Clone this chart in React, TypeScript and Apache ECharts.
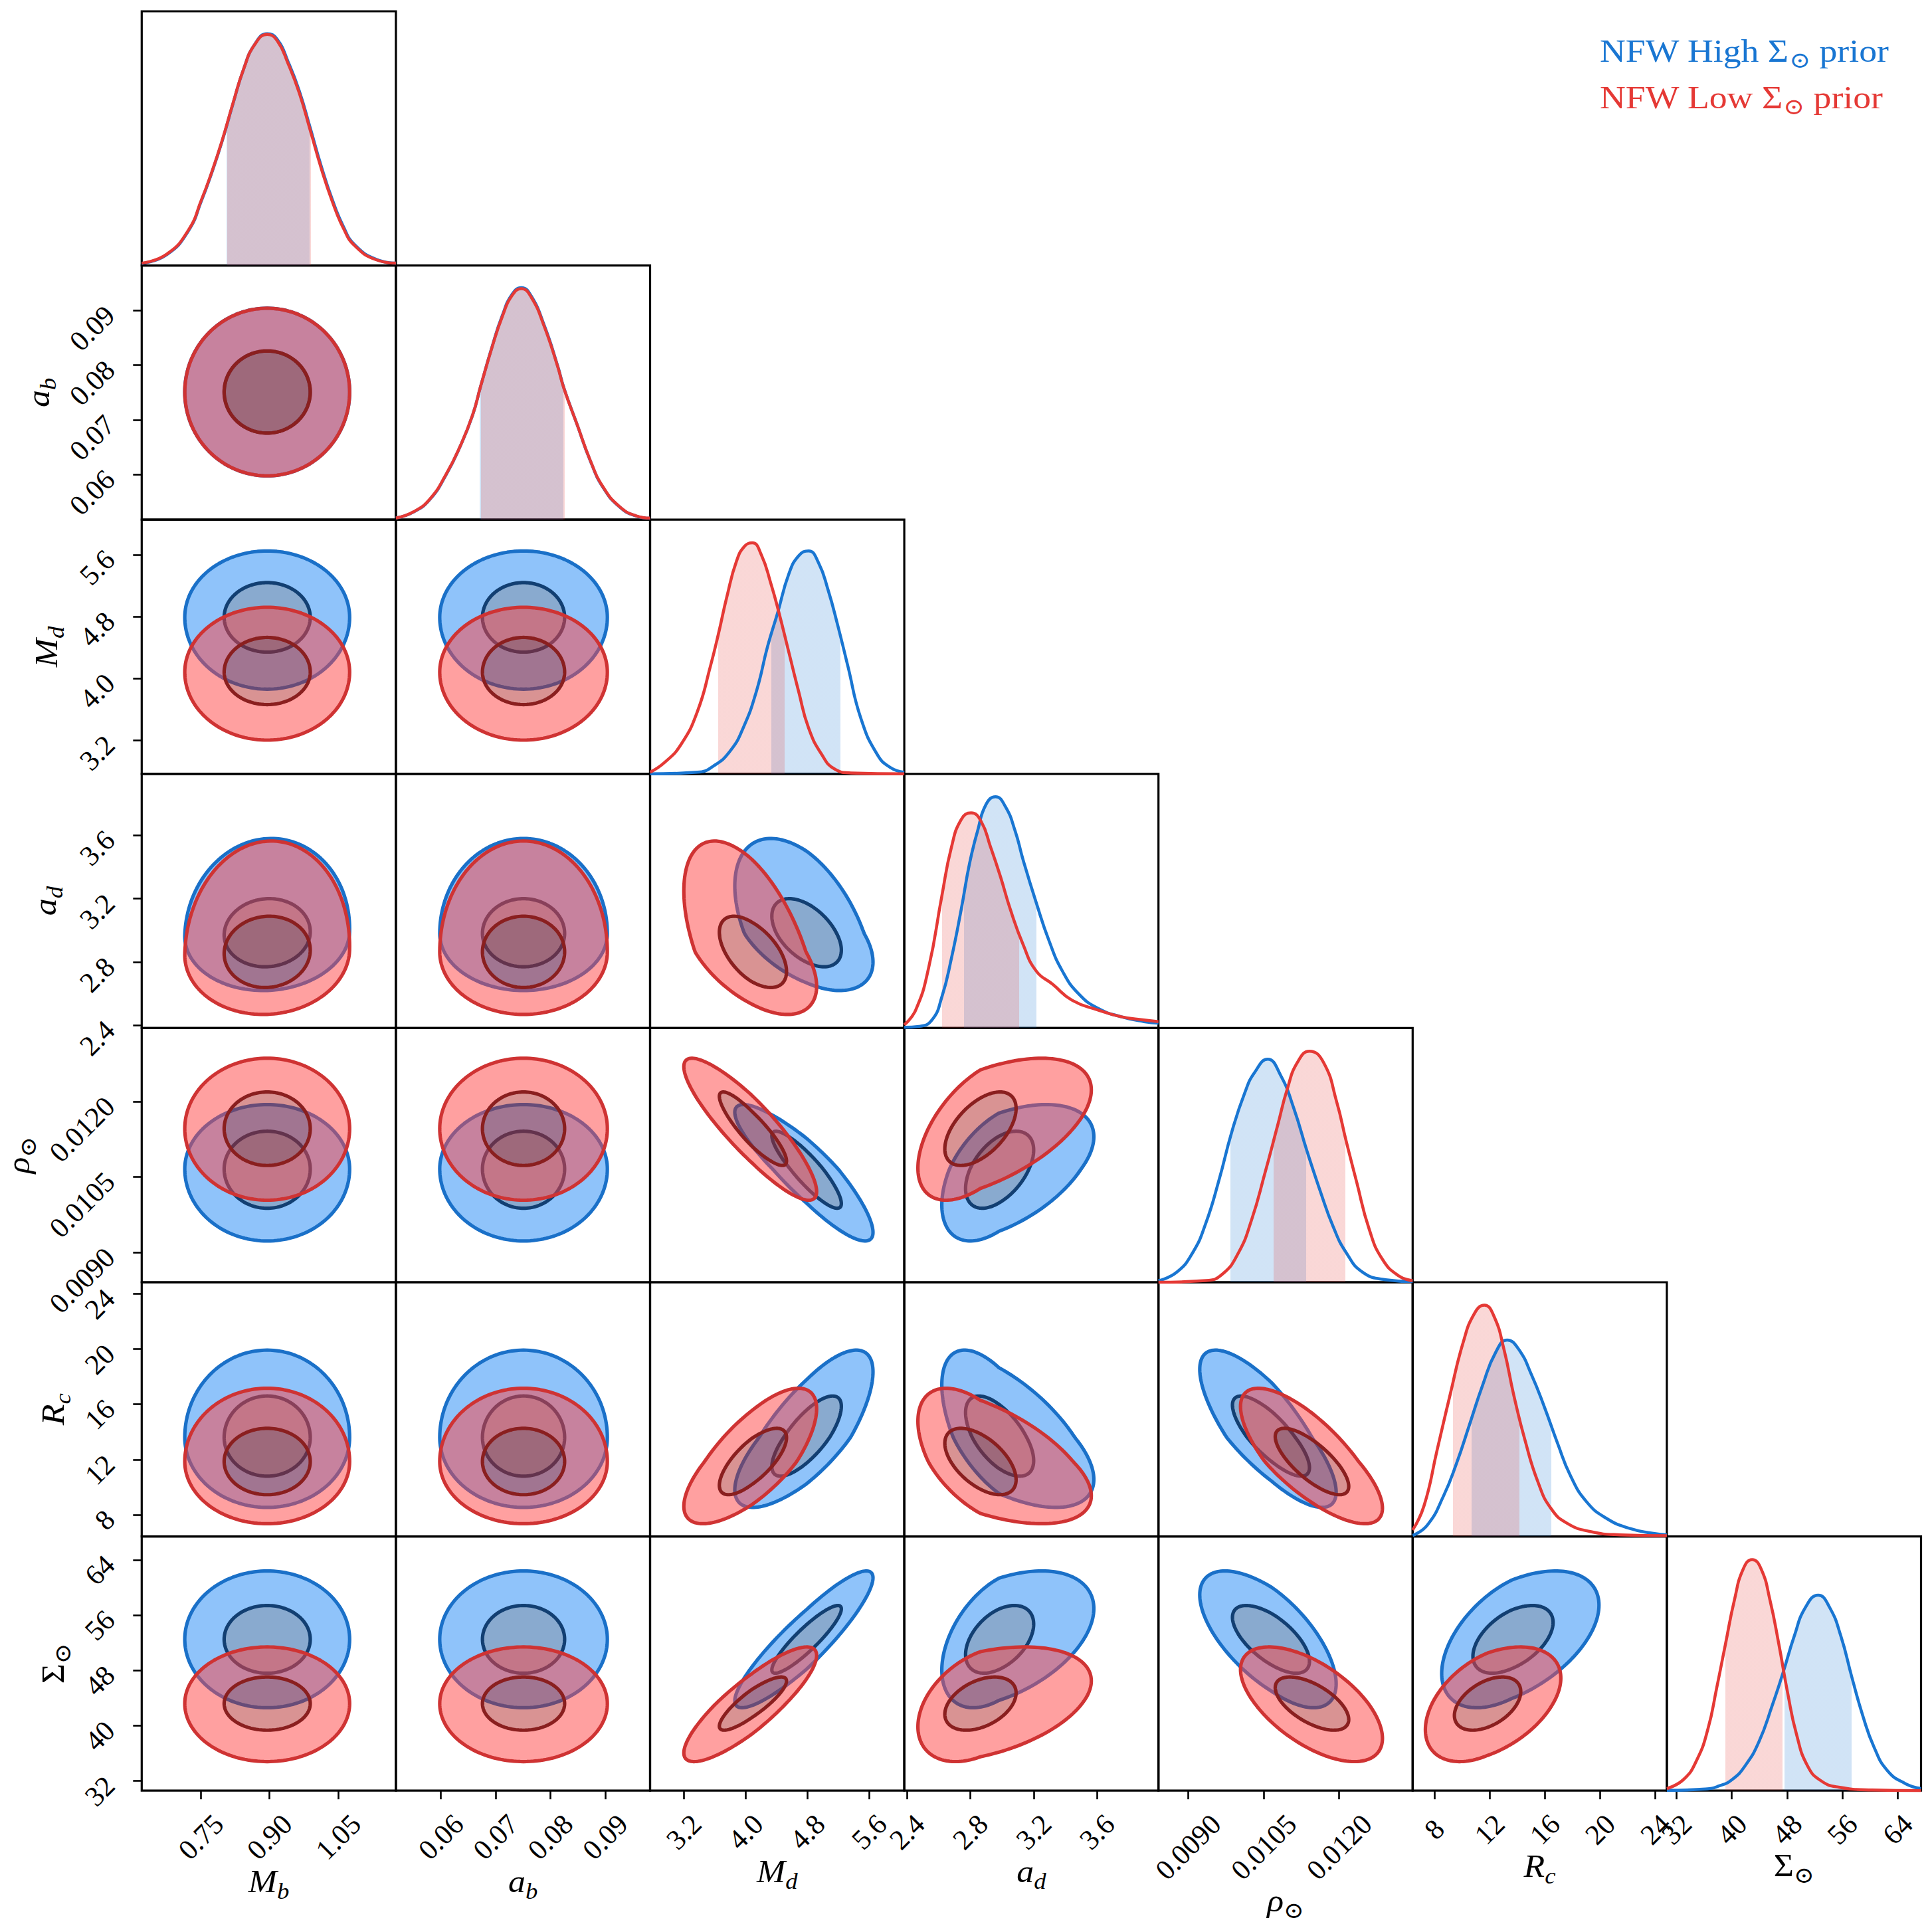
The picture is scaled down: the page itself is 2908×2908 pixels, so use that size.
import React, { useEffect, useRef } from 'react';
import * as echarts from 'echarts';

// ---------- parameters / axes ----------
const paramKeys = ['M_b', 'a_b', 'M_d', 'a_d', 'rho', 'R_c', 'Sigma'];
const axisMin = [0.621, 0.0518, 2.763, 2.383, 0.00841, 6.44, 30.6];
const axisMax = [1.176, 0.0982, 6.055, 3.988, 0.01346, 24.83, 67.4];
const tickValues = [
  [0.75, 0.9, 1.05],
  [0.06, 0.07, 0.08, 0.09],
  [3.2, 4.0, 4.8, 5.6],
  [2.4, 2.8, 3.2, 3.6],
  [0.009, 0.0105, 0.012],
  [8, 12, 16, 20, 24],
  [32, 40, 48, 56, 64],
];
const tickDecimals = [2, 2, 1, 1, 4, 0, 0];

// ---------- 1D marginals (x, relative density) ----------
const mbHigh = [[0.621, 0.009], [0.675, 0.046], [0.723, 0.15], [0.752, 0.283], [0.772, 0.39], [0.796, 0.534], [0.82, 0.698], [0.844, 0.853], [0.868, 0.958], [0.895, 1.003], [0.917, 0.978], [0.941, 0.88], [0.965, 0.756], [0.989, 0.595], [1.013, 0.43], [1.037, 0.286], [1.061, 0.17], [1.086, 0.09], [1.134, 0.026], [1.176, 0.01]];
const mbLow = [[0.621, 0.01], [0.675, 0.048], [0.723, 0.153], [0.752, 0.287], [0.772, 0.393], [0.796, 0.537], [0.82, 0.7], [0.844, 0.853], [0.868, 0.957], [0.895, 1.0], [0.917, 0.972], [0.941, 0.872], [0.965, 0.747], [0.989, 0.585], [1.013, 0.42], [1.037, 0.278], [1.061, 0.163], [1.086, 0.086], [1.134, 0.024], [1.176, 0.01]];
const abHigh = [[0.0518, 0.007], [0.0551, 0.034], [0.0581, 0.09], [0.061, 0.196], [0.0634, 0.31], [0.0658, 0.452], [0.0673, 0.58], [0.0694, 0.752], [0.0712, 0.882], [0.073, 0.975], [0.0747, 1.004], [0.0765, 0.968], [0.0789, 0.84], [0.0813, 0.668], [0.0825, 0.568], [0.0849, 0.41], [0.0873, 0.254], [0.0896, 0.14], [0.0926, 0.056], [0.0956, 0.016], [0.0982, 0.006]];
const abLow = [[0.0518, 0.007], [0.0551, 0.035], [0.0581, 0.092], [0.061, 0.198], [0.0634, 0.311], [0.0658, 0.453], [0.0673, 0.58], [0.0694, 0.75], [0.0712, 0.878], [0.073, 0.97], [0.0747, 1.0], [0.0765, 0.963], [0.0789, 0.835], [0.0813, 0.665], [0.0825, 0.566], [0.0849, 0.41], [0.0873, 0.255], [0.0896, 0.142], [0.0926, 0.057], [0.0956, 0.017], [0.0982, 0.007]];
const mdHigh = [[2.763, 0], [3.376, 0.007], [3.588, 0.035], [3.8, 0.099], [3.969, 0.199], [4.138, 0.355], [4.286, 0.553], [4.413, 0.695], [4.561, 0.866], [4.688, 0.944], [4.815, 0.965], [4.942, 0.915], [5.069, 0.795], [5.196, 0.639], [5.323, 0.468], [5.492, 0.241], [5.703, 0.085], [5.873, 0.028], [6.055, 0.007]];
const mdLow = [[2.763, 0.007], [2.953, 0.05], [3.165, 0.128], [3.376, 0.27], [3.546, 0.468], [3.651, 0.61], [3.757, 0.766], [3.884, 0.922], [3.99, 0.986], [4.087, 1.0], [4.201, 0.95], [4.328, 0.823], [4.434, 0.695], [4.561, 0.525], [4.688, 0.355], [4.815, 0.199], [4.984, 0.085], [5.153, 0.021], [5.365, 0.004], [6.055, 0]];
const adHigh = [[2.383, 0.003], [2.476, 0.007], [2.558, 0.035], [2.62, 0.134], [2.681, 0.303], [2.743, 0.515], [2.795, 0.712], [2.846, 0.853], [2.898, 0.966], [2.959, 1.001], [3.021, 0.959], [3.083, 0.853], [3.134, 0.726], [3.216, 0.543], [3.299, 0.374], [3.381, 0.247], [3.484, 0.148], [3.607, 0.085], [3.752, 0.049], [3.896, 0.028], [3.988, 0.021]];
const adLow = [[2.383, 0.014], [2.455, 0.078], [2.537, 0.261], [2.62, 0.571], [2.681, 0.783], [2.743, 0.903], [2.805, 0.931], [2.867, 0.896], [2.928, 0.783], [2.99, 0.656], [3.052, 0.515], [3.134, 0.36], [3.216, 0.247], [3.319, 0.19], [3.443, 0.12], [3.607, 0.078], [3.752, 0.049], [3.896, 0.035], [3.988, 0.028]];
const rhoHigh = [[0.00841, 0.007], [0.00877, 0.043], [0.00909, 0.128], [0.00935, 0.255], [0.00961, 0.44], [0.00987, 0.653], [0.01013, 0.823], [0.01032, 0.908], [0.01058, 0.965], [0.01084, 0.894], [0.0111, 0.752], [0.01136, 0.568], [0.01162, 0.397], [0.01188, 0.241], [0.01214, 0.128], [0.01247, 0.043], [0.01292, 0.011], [0.01346, 0.003]];
const rhoLow = [[0.00841, 0], [0.00935, 0.007], [0.00968, 0.035], [0.01, 0.128], [0.01026, 0.27], [0.01052, 0.468], [0.01078, 0.681], [0.01097, 0.837], [0.01117, 0.951], [0.01141, 1.0], [0.01169, 0.951], [0.01195, 0.781], [0.01214, 0.61], [0.01234, 0.44], [0.0126, 0.227], [0.01286, 0.099], [0.01318, 0.028], [0.01346, 0.007]];
const rcHigh = [[6.44, 0.004], [7.5, 0.049], [8.68, 0.176], [9.62, 0.317], [10.57, 0.487], [11.51, 0.656], [12.45, 0.797], [13.28, 0.85], [14.1, 0.811], [15.05, 0.698], [15.99, 0.557], [16.93, 0.402], [17.87, 0.261], [19.05, 0.148], [20.47, 0.078], [22.12, 0.035], [23.77, 0.014], [24.83, 0.007]];
const rcLow = [[6.44, 0.028], [7.27, 0.134], [8.21, 0.374], [9.15, 0.613], [10.09, 0.839], [10.92, 0.966], [11.63, 1.001], [12.33, 0.952], [13.04, 0.811], [13.75, 0.613], [14.57, 0.416], [15.52, 0.233], [16.46, 0.12], [17.64, 0.056], [19.29, 0.021], [21.41, 0.007], [24.83, 0.003]];
const sgHigh = [[30.6, 0.001], [36.21, 0.007], [38.14, 0.02], [40.06, 0.048], [41.99, 0.11], [43.91, 0.21], [45.84, 0.367], [47.44, 0.512], [49.05, 0.669], [50.65, 0.792], [52.51, 0.846], [54.18, 0.792], [55.79, 0.669], [57.39, 0.49], [58.99, 0.322], [60.6, 0.188], [62.52, 0.087], [65.09, 0.031], [67.4, 0.009]];
const sgLow = [[30.6, 0.009], [33.01, 0.048], [34.93, 0.132], [36.54, 0.266], [37.82, 0.445], [39.1, 0.636], [40.39, 0.826], [41.67, 0.96], [42.95, 1.0], [44.24, 0.96], [45.52, 0.826], [46.8, 0.636], [48.09, 0.423], [49.37, 0.244], [50.97, 0.107], [52.9, 0.043], [55.47, 0.015], [60.28, 0.003], [67.4, 0]];

// 68% intervals shaded on the diagonal
const highShade = [[0.806, 0.987], [0.0671, 0.0824], [4.337, 5.23], [2.76, 3.216], [0.00984, 0.01134], [10.68, 16.46], [47.6, 57.39]];
const lowShade = [[0.808, 0.99], [0.0673, 0.0826], [3.643, 4.506], [2.62, 3.109], [0.0107, 0.01212], [9.34, 14.17], [39.1, 47.38]];

// ---------- 2D contour summaries (centre, inner / outer half-extents, correlations) ----------
const highCenter = [0.895, 0.0751, 4.79, 2.98, 0.01066, 13.6, 52.5];
const highInnerLo = [0.094, 0.0075, 0.45, 0.21, 0.00078, 2.8, 4.9];
const highInnerHi = [0.094, 0.0075, 0.45, 0.22, 0.00075, 3.0, 4.9];
const highOuterLo = [0.18, 0.0153, 0.93, 0.36, 0.00143, 5.06, 9.9];
const highOuterHi = [0.18, 0.0153, 0.86, 0.6, 0.00128, 6.32, 9.9];
const highCorr = [
  [],
  [0],
  [0, 0],
  [0.05, 0, -0.5],
  [0, 0, -0.88, 0.5],
  [0, 0, 0.75, -0.6, -0.78],
  [0, 0, 0.9, 0.45, -0.65, 0.5],
];
const lowCenter = [0.895, 0.0751, 4.08, 2.864, 0.01146, 11.86, 43.2];
const lowInnerLo = [0.094, 0.0075, 0.42, 0.225, 0.00073, 2.4, 3.85];
const lowInnerHi = [0.094, 0.0075, 0.45, 0.225, 0.00073, 2.4, 3.85];
const lowOuterLo = [0.18, 0.0153, 0.88, 0.395, 0.00142, 4.5, 8.4];
const lowOuterHi = [0.18, 0.0153, 0.84, 0.7, 0.0014, 5.3, 8.2];
const lowCorr = [
  [],
  [0],
  [0, 0],
  [0.05, 0, -0.55],
  [0, 0, -0.88, 0.55],
  [0, 0, 0.72, -0.55, -0.75],
  [0, 0, 0.85, 0.4, -0.6, 0.45],
];

const legendTexts = ['NFW High Σ', 'NFW Low Σ'];

// ---------- styling / layout ----------
const X0 = 213.3;
const Y0 = 17;
const CELL = 382.6;
const N = 7;
const SERIF = '"Liberation Serif", "DejaVu Serif", serif';
const TICK_SIZE = 43;
const CONTOUR_LW = 5.2;

const models = [
  {
    line: '#1976D2', shade: 'rgba(25,118,210,0.2)',
    outerFill: 'rgba(31,135,245,0.5)', innerFill: 'rgba(19,85,159,0.5)',
    outerLine: '#1A70C8', innerLine: '#123F72',
    curves: [mbHigh, abHigh, mdHigh, adHigh, rhoHigh, rcHigh, sgHigh], shades: highShade,
    center: highCenter, inLo: highInnerLo, inHi: highInnerHi, outLo: highOuterLo, outHi: highOuterHi, corr: highCorr,
  },
  {
    line: '#E53935', shade: 'rgba(229,57,53,0.2)',
    outerFill: 'rgba(255,65,65,0.5)', innerFill: 'rgba(179,39,39,0.5)',
    outerLine: '#CF3333', innerLine: '#8A1F1F',
    curves: [mbLow, abLow, mdLow, adLow, rhoLow, rcLow, sgLow], shades: lowShade,
    center: lowCenter, inLo: lowInnerLo, inHi: lowInnerHi, outLo: lowOuterLo, outHi: lowOuterHi, corr: lowCorr,
  },
];

const labelParts = [
  [{ t: 'M', it: true }, { t: 'b', it: true, sub: true }],
  [{ t: 'a', it: true }, { t: 'b', it: true, sub: true }],
  [{ t: 'M', it: true }, { t: 'd', it: true, sub: true }],
  [{ t: 'a', it: true }, { t: 'd', it: true, sub: true }],
  [{ t: 'ρ', it: true }, { t: '⊙', sub: true }],
  [{ t: 'R', it: true }, { t: 'c', it: true, sub: true }],
  [{ t: 'Σ' }, { t: '⊙', sub: true }],
];
const bottomLabelY = [2832, 2832, 2817, 2817, 2861, 2809, 2808];
const leftLabelX = [0, 58, 70, 68, 28, 80, 80];

let ctx: CanvasRenderingContext2D | null = null;
function measure(text: string, font: string) {
  if (!ctx) ctx = document.createElement('canvas').getContext('2d');
  ctx!.font = font;
  return ctx!.measureText(text).width;
}

function compose(parts: any[], color: string, mainSize: number) {
  const subSize = Math.round(mainSize * 0.7);
  let x = 0;
  const items: any[] = [];
  parts.forEach((p) => {
    const size = p.sub ? subSize : mainSize;
    const font = `${p.it ? 'italic ' : ''}${size}px ${SERIF}`;
    items.push({ x, y: p.sub ? Math.round(mainSize * 0.29) : 0, text: p.t, font });
    x += measure(p.t, font);
  });
  return { items, width: x, color };
}

function textGroup(c: any, gx: number, gy: number, rotation: number, center: boolean, scaleX = 1) {
  const off = center ? -c.width / 2 : 0;
  return {
    type: 'group', x: gx, y: gy, rotation, scaleX, silent: true,
    children: c.items.map((it: any) => ({
      type: 'text', x: it.x + off, y: it.y,
      style: { text: it.text, font: it.font, fill: c.color, align: 'left', verticalAlign: 'middle' },
    })),
  };
}

function ring(m: any, j: number, i: number, outer: boolean) {
  const r = m.corr[i][j];
  const lo = outer ? m.outLo : m.inLo;
  const hi = outer ? m.outHi : m.inHi;
  const pts: number[][] = [];
  const K = 160;
  for (let k = 0; k < K; k++) {
    const t = (k / K) * Math.PI * 2;
    const zx = Math.cos(t);
    const zy = r * Math.cos(t) + Math.sqrt(1 - r * r) * Math.sin(t);
    pts.push([
      m.center[j] + zx * (zx < 0 ? lo[j] : hi[j]),
      m.center[i] + zy * (zy < 0 ? lo[i] : hi[i]),
    ]);
  }
  return pts;
}

function pathOf(pts: number[][], reverse: boolean) {
  const a = reverse ? pts.slice().reverse() : pts;
  return 'M' + a.map((p) => p[0].toFixed(2) + ' ' + p[1].toFixed(2)).join(' L') + ' Z';
}

const TICK_FONT = `${TICK_SIZE}px ${SERIF}`;
function xMargin(p: number) {
  const w = Math.max(...tickValues[p].map((v) => measure(v.toFixed(tickDecimals[p]), TICK_FONT)));
  return 33 + (w + 0.66 * TICK_SIZE) / (2 * Math.SQRT2);
}

function makeAxis(p: number, g: number, dir: 'x' | 'y', show: boolean) {
  const label: any = {
    show, customValues: tickValues[p], rotate: 45,
    formatter: (v: number) => Number(v).toFixed(tickDecimals[p]),
    fontFamily: SERIF, fontSize: TICK_SIZE, color: '#000',
    margin: dir === 'x' ? xMargin(p) : 48,
  };
  if (dir === 'x') { label.align = 'center'; label.verticalAlign = 'middle'; }
  return {
    type: 'value', gridIndex: g, min: axisMin[p], max: axisMax[p],
    axisLine: { show: false, onZero: false },
    splitLine: { show: false },
    axisTick: { show, customValues: tickValues[p], length: 13, lineStyle: { color: '#000', width: 2.6 } },
    axisLabel: label,
  };
}

function buildOption() {
  const grid: any[] = [];
  const xAxis: any[] = [];
  const yAxis: any[] = [];
  const series: any[] = [];
  const visualMap: any[] = [];
  const elements: any[] = [];
  let g = 0;
  for (let i = 0; i < N; i++) {
    for (let j = 0; j <= i; j++) {
      grid.push({
        left: X0 + j * CELL, top: Y0 + i * CELL, width: CELL, height: CELL,
        show: true, borderColor: '#000', borderWidth: 3.2, backgroundColor: 'transparent',
      });
      xAxis.push(makeAxis(j, g, 'x', i === N - 1));
      if (i === j) {
        yAxis.push({ type: 'value', gridIndex: g, min: 0, max: 1.1, show: false, axisLine: { onZero: false } });
        // shaded 68% intervals
        models.forEach((m) => {
          series.push({
            type: 'line', xAxisIndex: g, yAxisIndex: g, data: m.curves[i],
            smooth: 0.5, symbol: 'none', silent: true,
            lineStyle: { width: 0, opacity: 0 }, areaStyle: { opacity: 1 },
          });
          visualMap.push({
            type: 'piecewise', show: false, dimension: 0, seriesIndex: series.length - 1,
            pieces: [{ gte: m.shades[i][0], lte: m.shades[i][1], color: m.shade }],
            outOfRange: { color: 'rgba(0,0,0,0)' },
          });
        });
        models.forEach((m) => {
          series.push({
            type: 'line', xAxisIndex: g, yAxisIndex: g, data: m.curves[i],
            smooth: 0.5, symbol: 'none', silent: true,
            lineStyle: { color: m.line, width: 4.5 }, itemStyle: { color: m.line },
          });
        });
      } else {
        yAxis.push(makeAxis(i, g, 'y', j === 0));
        models.forEach((m) => {
          const ii = i, jj = j;
          series.push({
            type: 'custom', xAxisIndex: g, yAxisIndex: g, coordinateSystem: 'cartesian2d',
            data: [[m.center[jj], m.center[ii]]], silent: true,
            renderItem: (_params: any, api: any) => {
              const outer = ring(m, jj, ii, true).map((p) => api.coord(p));
              const inner = ring(m, jj, ii, false).map((p) => api.coord(p));
              return {
                type: 'group',
                children: [
                  { type: 'path', shape: { pathData: pathOf(outer, false) + ' ' + pathOf(inner, true) }, style: { fill: m.outerFill, stroke: null } },
                  { type: 'path', shape: { pathData: pathOf(inner, false) }, style: { fill: m.innerFill, stroke: null } },
                  { type: 'polygon', shape: { points: outer }, style: { fill: 'none', stroke: m.outerLine, lineWidth: CONTOUR_LW, lineJoin: 'round' } },
                  { type: 'polygon', shape: { points: inner }, style: { fill: 'none', stroke: m.innerLine, lineWidth: CONTOUR_LW, lineJoin: 'round' } },
                ],
              };
            },
          });
        });
      }
      g++;
    }
  }

  // axis names
  for (let p = 0; p < N; p++) {
    const c = compose(labelParts[p], '#000', 48);
    elements.push(textGroup(c, X0 + (p + 0.5) * CELL, bottomLabelY[p], 0, true, 1.08));
    if (p > 0) {
      const c2 = compose(labelParts[p], '#000', 48);
      elements.push(textGroup(c2, leftLabelX[p], Y0 + (p + 0.5) * CELL, Math.PI / 2, true, 1.08));
    }
  }
  // legend
  legendTexts.forEach((t, k) => {
    const c = compose([{ t }, { t: '⊙', sub: true }, { t: ' prior' }], models[k].line, 48);
    elements.push(textGroup(c, 2408, 77 + k * 70, 0, false, 1.12));
  });

  return {
    animation: false,
    backgroundColor: '#fff',
    grid, xAxis, yAxis, series, visualMap,
    graphic: { elements },
  };
}

export default function App() {
  const ref = useRef<HTMLDivElement>(null);
  useEffect(() => {
    const chart = echarts.init(ref.current!, undefined, { renderer: 'svg' });
    chart.setOption(buildOption() as any);
    return () => chart.dispose();
  }, []);
  return (
    <div
      ref={ref}
      style={{ position: 'absolute', left: 0, top: 0, width: 2908, height: 2908, background: '#fff' }}
    />
  );
}
